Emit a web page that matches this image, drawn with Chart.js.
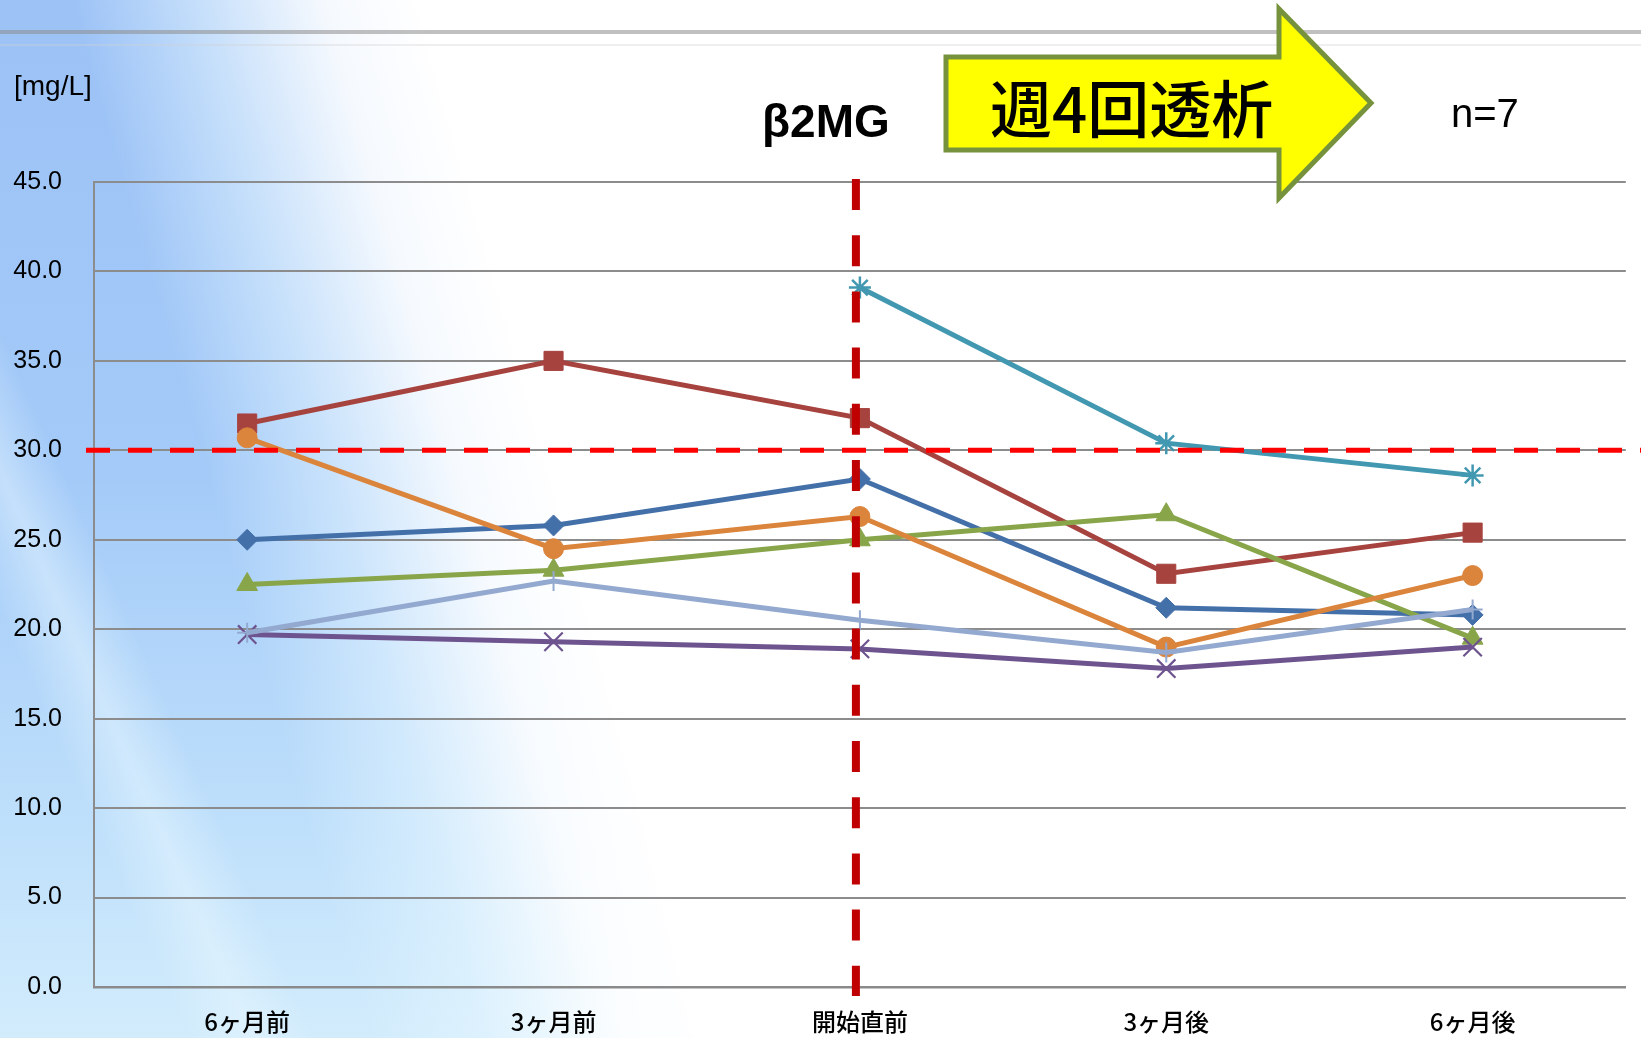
<!DOCTYPE html>
<html>
<head>
<meta charset="utf-8">
<script src="https://cdn.jsdelivr.net/npm/chart.js@4.4.1/dist/chart.umd.min.js"></script>
<style>
  html, body { margin:0; padding:0; width:1641px; height:1038px; overflow:hidden; background:#fff; }
  #wrap { position:relative; width:1641px; height:1038px; }
  #bg { position:absolute; left:0; top:0; width:1641px; height:1038px;
    background:
      linear-gradient(66deg, rgba(255,255,255,0) 9%, rgba(235,248,255,0.45) 12%, rgba(255,255,255,0) 15%),
      linear-gradient(74deg, rgba(255,255,255,0) 0%, rgba(255,255,255,0) 19%, rgba(232,247,255,0.5) 25%, rgba(255,255,255,0.9) 32%, #ffffff 37%),
      linear-gradient(180deg, #9cc2f6 0%, #a3caf8 45%, #bfe0fb 80%, #d2ecfc 100%);
  }
  .topline { position:absolute; left:0; width:1641px; }
  canvas { position:absolute; left:0; top:0; }
  .txt { position:absolute; white-space:nowrap; color:#000; }
</style>
</head>
<body>
<div id="wrap">
  <div id="bg"></div>
  <div class="topline" style="top:30px;height:4px;background:rgba(140,140,140,0.55);"></div>
  <div class="topline" style="top:44px;height:2px;background:rgba(210,210,210,0.35);"></div>
  <canvas id="c" width="1641" height="1038"></canvas>
  <svg style="position:absolute;left:0;top:0" width="1641" height="1038">
    <polygon points="946,57 1279,57 1279,9 1371,103 1279,198 1279,150 946,150"
      fill="#FFFF00" stroke="#76923C" stroke-width="5" stroke-linejoin="miter"/>
  </svg>
  <div class="txt" style="left:14px;top:70px;font:28px 'Liberation Sans',Arial,sans-serif;">[mg/L]</div>
  <div class="txt" style="left:762px;top:94px;font:bold 46px 'Liberation Sans',Arial,sans-serif;">β2MG</div>
  <div class="txt" style="left:1451px;top:91px;font:40px 'Liberation Sans',Arial,sans-serif;">n=7</div>
  <div class="txt" style="left:990px;top:68px;font:500 62px 'Noto Sans CJK JP',sans-serif;line-height:76px;">週4回透析</div>
</div>
<script>
// ---- data ----
const categories = ['6ヶ月前', '3ヶ月前', '開始直前', '3ヶ月後', '6ヶ月後'];
const seriesBlue     = [25.0, 25.8, 28.4, 21.2, 20.8];
const seriesRed      = [31.5, 35.0, 31.8, 23.1, 25.4];
const seriesGreen    = [22.5, 23.3, 25.0, 26.4, 19.5];
const seriesPurple   = [19.7, 19.3, 18.9, 17.8, 19.0];
const seriesTeal     = [null, null, 39.1, 30.4, 28.6];
const seriesOrange   = [30.7, 24.5, 26.3, 19.0, 23.0];
const seriesLightBlue= [19.8, 22.7, 20.5, 18.7, 21.1];
const yMin = 0, yMax = 45, yStep = 5;
const referenceValue = 30;      // horizontal dashed line
const startCategoryIndex = 2;   // vertical dashed line (開始直前)

const styles = [
  { data: seriesBlue,      color: '#4470A9', point: 'rectRot',  radius: 10.5, bw: 1 },
  { data: seriesRed,       color: '#A7433F', point: 'rect',     radius: 13.5, bw: 1 },
  { data: seriesGreen,     color: '#88A54A', point: 'triangle', radius: 12,   bw: 1 },
  { data: seriesPurple,    color: '#6E548F', point: 'crossRot', radius: 13,   bw: 2.2 },
  { data: seriesTeal,      color: '#4198B0', point: 'star',     radius: 11,   bw: 2.5 },
  { data: seriesOrange,    color: '#DB843C', point: 'circle',   radius: 10,   bw: 1 },
  { data: seriesLightBlue, color: '#93A9CF', point: 'cross',    radius: 10,   bw: 2 }
];

const datasets = styles.map((s, i) => ({
  label: 'S' + (i + 1),
  data: s.data,
  borderColor: s.color,
  backgroundColor: s.color,
  pointBackgroundColor: s.color,
  pointBorderColor: s.color,
  pointStyle: s.point,
  pointRadius: s.radius,
  pointBorderWidth: s.bw,
  borderWidth: 5,
  tension: 0,
  order: styles.length - i
}));

const refLines = {
  id: 'refLines',
  afterDatasetsDraw(chart) {
    const ctx = chart.ctx;
    const x = chart.scales.x, y = chart.scales.y;
    const area = chart.chartArea;
    ctx.save();
    const yy = y.getPixelForValue(referenceValue);
    ctx.strokeStyle = '#FF0000';
    ctx.lineWidth = 5;
    ctx.setLineDash([24, 18]);
    ctx.beginPath();
    ctx.moveTo(86, yy);
    ctx.lineTo(chart.width, yy);
    ctx.stroke();
    const xx = x.getPixelForValue(startCategoryIndex) - 4;
    ctx.strokeStyle = '#C00000';
    ctx.lineWidth = 8;
    ctx.setLineDash([31, 25.2]);
    ctx.beginPath();
    ctx.moveTo(xx, area.top - 3);
    ctx.lineTo(xx, area.bottom + 9);
    ctx.stroke();
    ctx.restore();
  }
};

new Chart(document.getElementById('c'), {
  type: 'line',
  data: { labels: categories, datasets },
  options: {
    responsive: false,
    animation: false,
    devicePixelRatio: 1,
    layout: { padding: { top: 182, right: 12, left: 0, bottom: 0 } },
    plugins: { legend: { display: false }, tooltip: { enabled: false } },
    scales: {
      x: {
        offset: true,
        grid: { display: false, drawTicks: false },
        border: { display: true, color: '#8a8a8a', width: 2.5 },
        ticks: { color: '#000', padding: 20, font: { family: "'Noto Sans CJK JP'", size: 24, weight: '500' } },
        afterFit(scale) { scale.height = 51; }
      },
      y: {
        min: yMin, max: yMax,
        grid: { color: '#8c8c8c', lineWidth: 2, drawTicks: false },
        border: { display: true, color: '#8c8c8c', width: 2 },
        ticks: {
          stepSize: yStep, color: '#000', padding: 32,
          font: { family: "'Liberation Sans', Arial", size: 25 },
          callback: v => Number(v).toFixed(1)
        },
        afterFit(scale) { scale.width = 94; }
      }
    }
  },
  plugins: [refLines]
});
</script>
</body>
</html>
